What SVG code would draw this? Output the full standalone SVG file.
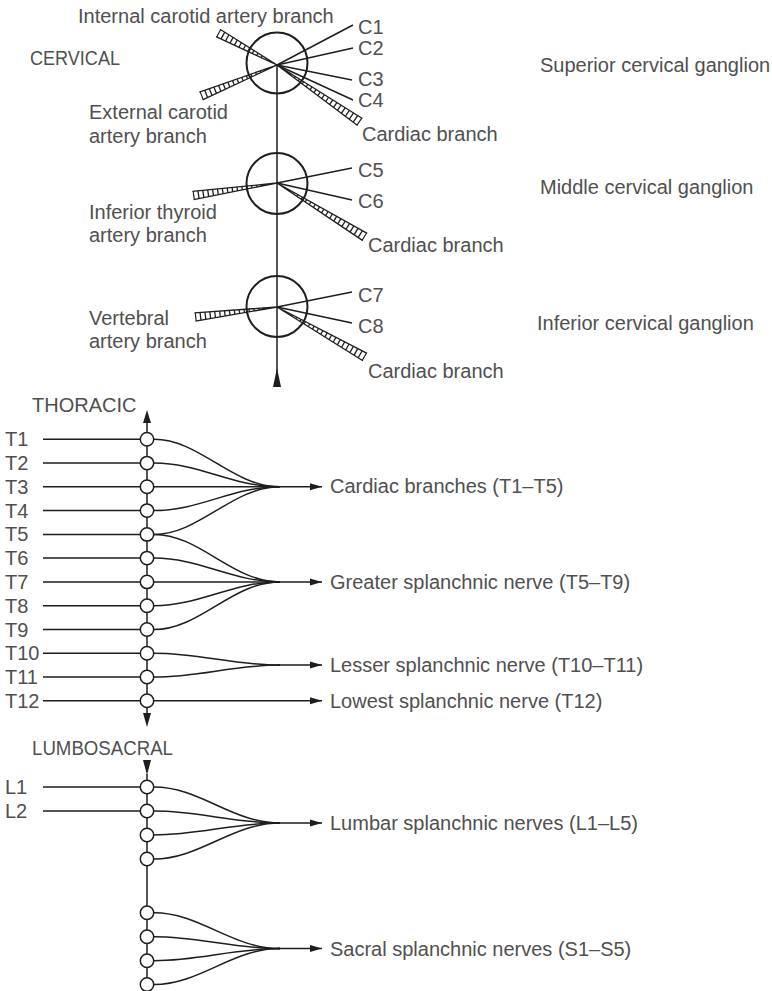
<svg xmlns="http://www.w3.org/2000/svg" width="772" height="991" viewBox="0 0 772 991">
<style>
text{font-family:"Liberation Sans","DejaVu Sans",sans-serif;font-size:20px;fill:#505050}
.ln{stroke:#1e1e1e;stroke-width:1.5;fill:none}
.rail{stroke:#1e1e1e;stroke-width:1.3;fill:none}
.tick{stroke:#1e1e1e;stroke-width:12;stroke-dasharray:1.3 3.6;fill:none}
.gc{stroke:#1e1e1e;stroke-width:2;fill:none}
.node{stroke:#1e1e1e;stroke-width:1.5;fill:#fff}
.ah{fill:#1e1e1e}
</style>
<defs>
<marker id="arr" markerUnits="userSpaceOnUse" markerWidth="13" markerHeight="8" refX="12" refY="4" orient="auto">
<path d="M0,0.5 L12,4 L0,7.5 z" fill="#1e1e1e"/>
</marker>
<clipPath id="c1"><polygon points="220,29.3 216,36.7 277,65"/></clipPath>
<clipPath id="c2"><polygon points="202.6,99.9 199.4,92.1 277,65"/></clipPath>
<clipPath id="c3"><polygon points="357.6,125.5 362.4,118.5 277,65"/></clipPath>
<clipPath id="c4"><polygon points="193.6,199.6 192.4,191.4 277,183"/></clipPath>
<clipPath id="c5"><polygon points="362.8,240.6 367.2,233.4 277,183"/></clipPath>
<clipPath id="c6"><polygon points="195.5,321.2 194.5,312.8 277,307"/></clipPath>
<clipPath id="c7"><polygon points="362.9,360.7 367.1,353.4 277,307"/></clipPath>
</defs>

<g id="connectors">
<!-- cervical trunk -->
<line class="ln" x1="277" y1="65" x2="277" y2="375"/>
<polygon class="ah" points="277,368 273,387 281,387"/>
<!-- superior ganglion nerves -->
<line class="ln" x1="277" y1="65" x2="353" y2="25"/>
<line class="ln" x1="277" y1="65" x2="353" y2="48"/>
<line class="ln" x1="277" y1="65" x2="352" y2="80"/>
<line class="ln" x1="277" y1="65" x2="353" y2="100"/>
<!-- middle -->
<line class="ln" x1="277" y1="183" x2="352" y2="168"/>
<line class="ln" x1="277" y1="183" x2="352" y2="200"/>
<!-- inferior -->
<line class="ln" x1="277" y1="307" x2="352" y2="292"/>
<line class="ln" x1="277" y1="307" x2="352" y2="323"/>
<!-- ladders -->
<g id="ladder-internal-carotid"><line class="tick" x1="218" y1="33" x2="277" y2="65" clip-path="url(#c1)"/><polyline class="rail" points="220,29.3 277,65 216,36.7"/></g>
<g id="ladder-external-carotid"><line class="tick" x1="201" y1="96" x2="277" y2="65" clip-path="url(#c2)"/><polyline class="rail" points="202.6,99.9 277,65 199.4,92.1"/></g>
<g id="ladder-cardiac-1"><line class="tick" x1="360" y1="122" x2="277" y2="65" clip-path="url(#c3)"/><polyline class="rail" points="357.6,125.5 277,65 362.4,118.5"/></g>
<g id="ladder-inferior-thyroid"><line class="tick" x1="193" y1="195.5" x2="277" y2="183" clip-path="url(#c4)"/><polyline class="rail" points="193.6,199.6 277,183 192.4,191.4"/></g>
<g id="ladder-cardiac-2"><line class="tick" x1="365" y1="237" x2="277" y2="183" clip-path="url(#c5)"/><polyline class="rail" points="362.8,240.6 277,183 367.2,233.4"/></g>
<g id="ladder-vertebral"><line class="tick" x1="195" y1="317" x2="277" y2="307" clip-path="url(#c6)"/><polyline class="rail" points="195.5,321.2 277,307 194.5,312.8"/></g>
<g id="ladder-cardiac-3"><line class="tick" x1="365" y1="357" x2="277" y2="307" clip-path="url(#c7)"/><polyline class="rail" points="362.9,360.7 277,307 367.1,353.4"/></g>

<!-- thoracic trunk -->
<polygon class="ah" points="147,410 143,423 151,423"/>
<line class="ln" x1="147" y1="422" x2="147" y2="714"/>
<polygon class="ah" points="147,727 143,713 151,713"/>
<!-- thoracic input lines -->
<line class="ln" x1="43" y1="439.3" x2="147" y2="439.3"/>
<line class="ln" x1="43" y1="463.1" x2="147" y2="463.1"/>
<line class="ln" x1="43" y1="486.8" x2="322" y2="486.8" marker-end="url(#arr)"/>
<line class="ln" x1="43" y1="510.6" x2="147" y2="510.6"/>
<line class="ln" x1="43" y1="534.4" x2="147" y2="534.4"/>
<line class="ln" x1="43" y1="558.1" x2="147" y2="558.1"/>
<line class="ln" x1="43" y1="581.9" x2="322" y2="581.9" marker-end="url(#arr)"/>
<line class="ln" x1="43" y1="605.7" x2="147" y2="605.7"/>
<line class="ln" x1="43" y1="629.5" x2="147" y2="629.5"/>
<line class="ln" x1="43" y1="653.2" x2="147" y2="653.2"/>
<line class="ln" x1="43" y1="677" x2="147" y2="677"/>
<line class="ln" x1="43" y1="700.8" x2="322" y2="700.8" marker-end="url(#arr)"/>
<!-- cardiac convergence -->
<path class="ln" d="M154,439.3 C200,439.3 232,486.8 280,486.8"/>
<path class="ln" d="M154,463.1 C200,463.1 232,486.8 280,486.8"/>
<path class="ln" d="M154,510.6 C200,510.6 232,486.8 280,486.8"/>
<path class="ln" d="M154,534.4 C200,534.4 232,486.8 280,486.8"/>
<!-- greater -->
<path class="ln" d="M154,534.4 C200,534.4 232,581.9 280,581.9"/>
<path class="ln" d="M154,558.1 C200,558.1 232,581.9 280,581.9"/>
<path class="ln" d="M154,605.7 C200,605.7 232,581.9 280,581.9"/>
<path class="ln" d="M154,629.5 C200,629.5 232,581.9 280,581.9"/>
<!-- lesser -->
<path class="ln" d="M154,653.2 C200,653.2 232,665.1 280,665.1"/>
<path class="ln" d="M154,677 C200,677 232,665.1 280,665.1"/>
<line class="ln" x1="278" y1="665.1" x2="322" y2="665.1" marker-end="url(#arr)"/>

<!-- lumbosacral trunk -->
<polygon class="ah" points="143,760 151,760 147,775"/>
<line class="ln" x1="147" y1="774" x2="147" y2="984.5"/>
<line class="ln" x1="43" y1="787" x2="147" y2="787"/>
<line class="ln" x1="43" y1="811" x2="147" y2="811"/>
<path class="ln" d="M154,787 C200,787 232,823 280,823"/>
<path class="ln" d="M154,811 C200,811 232,823 280,823"/>
<path class="ln" d="M154,835 C200,835 232,823 280,823"/>
<path class="ln" d="M154,859 C200,859 232,823 280,823"/>
<line class="ln" x1="278" y1="823" x2="322" y2="823" marker-end="url(#arr)"/>
<path class="ln" d="M154,912.7 C200,912.7 232,948.6 280,948.6"/>
<path class="ln" d="M154,936.7 C200,936.7 232,948.6 280,948.6"/>
<path class="ln" d="M154,960.7 C200,960.7 232,948.6 280,948.6"/>
<path class="ln" d="M154,984.5 C200,984.5 232,948.6 280,948.6"/>
<line class="ln" x1="278" y1="948.6" x2="322" y2="948.6" marker-end="url(#arr)"/>
</g>

<!-- cervical ganglia -->
<g id="superior-ganglion"><circle class="gc" cx="277" cy="63" r="30.5"/><text x="540" y="72">Superior cervical ganglion</text></g>
<g id="middle-ganglion"><circle class="gc" cx="277" cy="183.5" r="30.5"/><text x="540" y="194">Middle cervical ganglion</text></g>
<g id="inferior-ganglion"><circle class="gc" cx="277" cy="306.5" r="30.5"/><text x="537" y="330">Inferior cervical ganglion</text></g>

<g id="cervical-labels">
<text x="30" y="65" textLength="90" lengthAdjust="spacingAndGlyphs">CERVICAL</text>
<text x="78" y="23">Internal carotid artery branch</text>
<text x="89" y="119">External carotid</text>
<text x="89" y="143">artery branch</text>
<text x="89" y="219">Inferior thyroid</text>
<text x="89" y="242">artery branch</text>
<text x="89" y="325">Vertebral</text>
<text x="89" y="348">artery branch</text>
<text x="358" y="34">C1</text>
<text x="358" y="55">C2</text>
<text x="358" y="86">C3</text>
<text x="358" y="107">C4</text>
<text x="362" y="141">Cardiac branch</text>
<text x="358" y="177">C5</text>
<text x="358" y="208">C6</text>
<text x="368" y="252">Cardiac branch</text>
<text x="358" y="302">C7</text>
<text x="358" y="333">C8</text>
<text x="368" y="378">Cardiac branch</text>
</g>

<!-- thoracic nodes -->
<g id="thoracic">
<text x="32" y="412">THORACIC</text>
<g id="T1"><circle class="node" cx="147" cy="439.3" r="6.7"/><text x="5" y="446.3">T1</text></g>
<g id="T2"><circle class="node" cx="147" cy="463.1" r="6.7"/><text x="5" y="470.1">T2</text></g>
<g id="T3"><circle class="node" cx="147" cy="486.8" r="6.7"/><text x="5" y="493.8">T3</text></g>
<g id="T4"><circle class="node" cx="147" cy="510.6" r="6.7"/><text x="5" y="517.6">T4</text></g>
<g id="T5"><circle class="node" cx="147" cy="534.4" r="6.7"/><text x="5" y="541.4">T5</text></g>
<g id="T6"><circle class="node" cx="147" cy="558.1" r="6.7"/><text x="5" y="565.1">T6</text></g>
<g id="T7"><circle class="node" cx="147" cy="581.9" r="6.7"/><text x="5" y="588.9">T7</text></g>
<g id="T8"><circle class="node" cx="147" cy="605.7" r="6.7"/><text x="5" y="612.7">T8</text></g>
<g id="T9"><circle class="node" cx="147" cy="629.5" r="6.7"/><text x="5" y="636.5">T9</text></g>
<g id="T10"><circle class="node" cx="147" cy="653.2" r="6.7"/><text x="5" y="660.2">T10</text></g>
<g id="T11"><circle class="node" cx="147" cy="677" r="6.7"/><text x="5" y="684">T11</text></g>
<g id="T12"><circle class="node" cx="147" cy="700.8" r="6.7"/><text x="5" y="707.8">T12</text></g>
<text x="330" y="493">Cardiac branches (T1–T5)</text>
<text x="330" y="588.5">Greater splanchnic nerve (T5–T9)</text>
<text x="330" y="672">Lesser splanchnic nerve (T10–T11)</text>
<text x="330" y="707.5">Lowest splanchnic nerve (T12)</text>
</g>

<!-- lumbosacral nodes -->
<g id="lumbosacral">
<text x="32" y="755" textLength="141" lengthAdjust="spacingAndGlyphs">LUMBOSACRAL</text>
<g id="L1"><circle class="node" cx="147" cy="787" r="6.7"/><text x="5" y="794">L1</text></g>
<g id="L2"><circle class="node" cx="147" cy="811" r="6.7"/><text x="5" y="818">L2</text></g>
<g id="L3"><circle class="node" cx="147" cy="835" r="6.7"/></g>
<g id="L4"><circle class="node" cx="147" cy="859" r="6.7"/></g>
<g id="S1"><circle class="node" cx="147" cy="912.7" r="6.7"/></g>
<g id="S2"><circle class="node" cx="147" cy="936.7" r="6.7"/></g>
<g id="S3"><circle class="node" cx="147" cy="960.7" r="6.7"/></g>
<g id="S4"><circle class="node" cx="147" cy="984.5" r="6.7"/></g>
<text x="330" y="830">Lumbar splanchnic nerves (L1–L5)</text>
<text x="330" y="955.5">Sacral splanchnic nerves (S1–S5)</text>
</g>
</svg>
